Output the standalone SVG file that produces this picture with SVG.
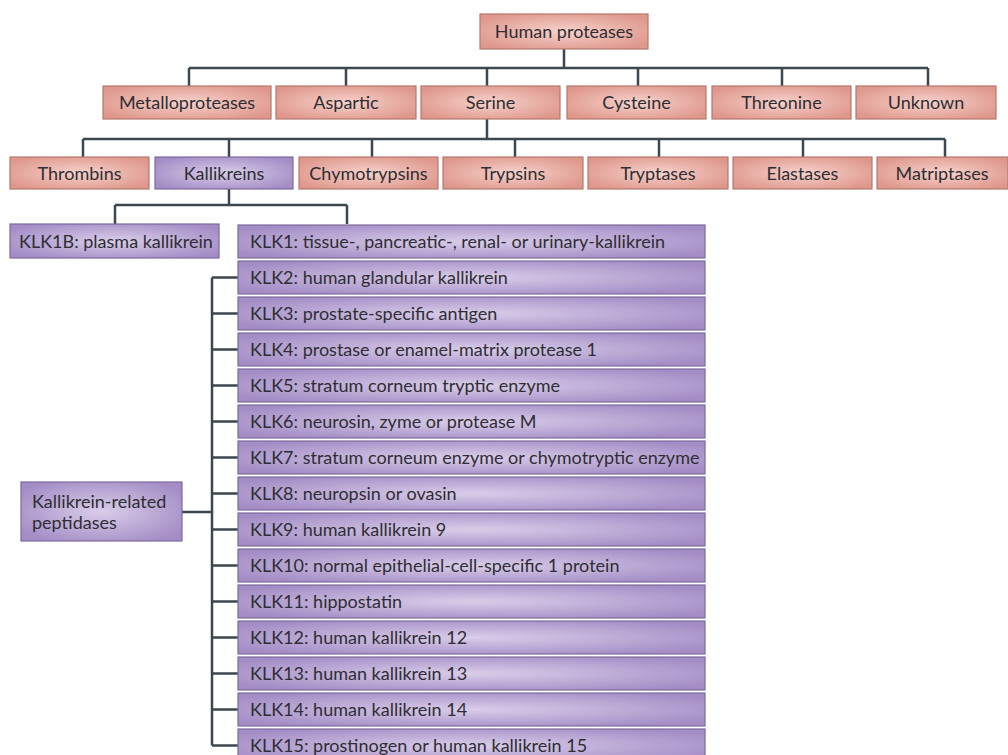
<svg xmlns="http://www.w3.org/2000/svg" width="1008" height="755" viewBox="0 0 1008 755">
<defs>
<radialGradient id="gs" cx="0.5" cy="0.5" r="0.6">
<stop offset="0" stop-color="#f6d2cb"/>
<stop offset="1" stop-color="#df978c"/>
</radialGradient>
<radialGradient id="gp" cx="0.5" cy="0.5" r="0.6">
<stop offset="0" stop-color="#d9cde9"/>
<stop offset="1" stop-color="#a48dc6"/>
</radialGradient>
<style>
.s{fill:url(#gs);stroke:#b5786e;stroke-width:1.2}
.p{fill:url(#gp);stroke:#7d6a9c;stroke-width:1.2}
text{font-family:"Lato","Liberation Sans",sans-serif;font-size:18px;fill:#2e2e33}
.c{text-anchor:middle}
.ln{fill:none;stroke:#3b4850;stroke-width:2.5}
</style>
</defs>
<g id="connectors" class="ln">
<path d="M564 49V68M189 68H928M189 68V86M346 68V86M487 68V86M638 68V86M782 68V86M928 68V86"/>
<path d="M487 119V139M83 139H945M83 139V157M229 139V157M372 139V157M515 139V157M659 139V157M803 139V157M945 139V157"/>
<path d="M229 189V205M115 205H347M115 205V224M347 205V224"/>
<path d="M212 277.5V745.5M182 512H212"/>
<path d="M212 277.5H238M212 313.5H238M212 349.5H238M212 385.5H238M212 421.5H238M212 457.5H238M212 493.5H238M212 529.5H238M212 565.5H238M212 601.5H238M212 637.5H238M212 673.5H238M212 709.5H238M212 745.5H238"/>
</g>
<g id="n-human"><rect class="s" x="480" y="14" width="168" height="35"/><text class="c" x="564" y="38">Human proteases</text></g>
<g id="n-metallo"><rect class="s" x="103" y="86" width="168" height="33"/><text class="c" x="187" y="109">Metalloproteases</text></g>
<g id="n-aspartic"><rect class="s" x="276" y="86" width="140" height="33"/><text class="c" x="346" y="109">Aspartic</text></g>
<g id="n-serine"><rect class="s" x="421" y="86" width="139" height="33"/><text class="c" x="490.5" y="109">Serine</text></g>
<g id="n-cysteine"><rect class="s" x="567" y="86" width="139" height="33"/><text class="c" x="636.5" y="109">Cysteine</text></g>
<g id="n-threonine"><rect class="s" x="712" y="86" width="139" height="33"/><text class="c" x="781.5" y="109">Threonine</text></g>
<g id="n-unknown"><rect class="s" x="856" y="86" width="140" height="33"/><text class="c" x="926" y="109">Unknown</text></g>
<g id="n-thrombins"><rect class="s" x="10" y="157" width="139" height="32"/><text class="c" x="79.5" y="179.5">Thrombins</text></g>
<g id="n-kallikreins"><rect class="p" x="155" y="157" width="138" height="32"/><text class="c" x="224" y="179.5">Kallikreins</text></g>
<g id="n-chymo"><rect class="s" x="299" y="157" width="139" height="32"/><text class="c" x="368.5" y="179.5">Chymotrypsins</text></g>
<g id="n-trypsins"><rect class="s" x="443" y="157" width="140" height="32"/><text class="c" x="513" y="179.5">Trypsins</text></g>
<g id="n-tryptases"><rect class="s" x="588" y="157" width="140" height="32"/><text class="c" x="658" y="179.5">Tryptases</text></g>
<g id="n-elastases"><rect class="s" x="733" y="157" width="139" height="32"/><text class="c" x="802.5" y="179.5">Elastases</text></g>
<g id="n-matriptases"><rect class="s" x="877" y="157" width="131" height="32"/><text class="c" x="942" y="179.5">Matriptases</text></g>
<g id="n-klk1b"><rect class="p" x="10" y="224" width="209" height="34"/><text x="19" y="248">KLK1B: plasma kallikrein</text></g>
<g id="n-krp"><rect class="p" x="21" y="482" width="161" height="59"/><text x="32" y="508">Kallikrein-related</text><text x="32" y="529">peptidases</text></g>
<g id="n-klk1"><rect class="p" x="238" y="225" width="467" height="33"/><text x="250" y="248">KLK1: tissue-, pancreatic-, renal- or urinary-kallikrein</text></g>
<g id="n-klk2"><rect class="p" x="238" y="261" width="467" height="33"/><text x="250" y="284">KLK2: human glandular kallikrein</text></g>
<g id="n-klk3"><rect class="p" x="238" y="297" width="467" height="33"/><text x="250" y="320">KLK3: prostate-specific antigen</text></g>
<g id="n-klk4"><rect class="p" x="238" y="333" width="467" height="33"/><text x="250" y="356">KLK4: prostase or enamel-matrix protease 1</text></g>
<g id="n-klk5"><rect class="p" x="238" y="369" width="467" height="33"/><text x="250" y="392">KLK5: stratum corneum tryptic enzyme</text></g>
<g id="n-klk6"><rect class="p" x="238" y="405" width="467" height="33"/><text x="250" y="428">KLK6: neurosin, zyme or protease M</text></g>
<g id="n-klk7"><rect class="p" x="238" y="441" width="467" height="33"/><text x="250" y="464">KLK7: stratum corneum enzyme or chymotryptic enzyme</text></g>
<g id="n-klk8"><rect class="p" x="238" y="477" width="467" height="33"/><text x="250" y="500">KLK8: neuropsin or ovasin</text></g>
<g id="n-klk9"><rect class="p" x="238" y="513" width="467" height="33"/><text x="250" y="536">KLK9: human kallikrein 9</text></g>
<g id="n-klk10"><rect class="p" x="238" y="549" width="467" height="33"/><text x="250" y="572">KLK10: normal epithelial-cell-specific 1 protein</text></g>
<g id="n-klk11"><rect class="p" x="238" y="585" width="467" height="33"/><text x="250" y="608">KLK11: hippostatin</text></g>
<g id="n-klk12"><rect class="p" x="238" y="621" width="467" height="33"/><text x="250" y="644">KLK12: human kallikrein 12</text></g>
<g id="n-klk13"><rect class="p" x="238" y="657" width="467" height="33"/><text x="250" y="680">KLK13: human kallikrein 13</text></g>
<g id="n-klk14"><rect class="p" x="238" y="693" width="467" height="33"/><text x="250" y="716">KLK14: human kallikrein 14</text></g>
<g id="n-klk15"><rect class="p" x="238" y="729" width="467" height="33"/><text x="250" y="752">KLK15: prostinogen or human kallikrein 15</text></g>
</svg>
